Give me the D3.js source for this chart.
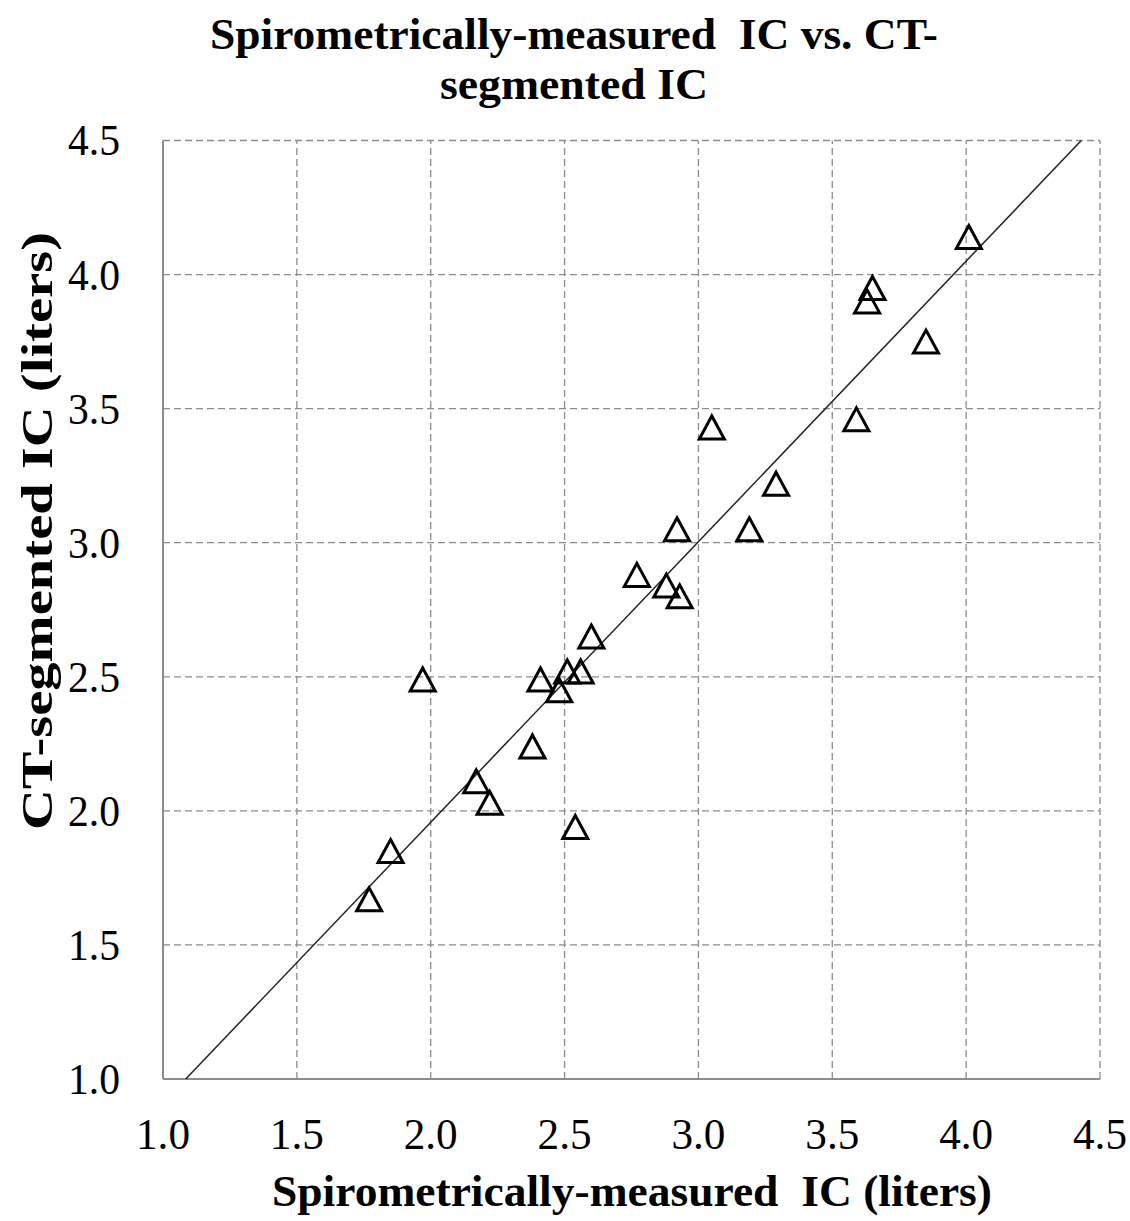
<!DOCTYPE html>
<html>
<head>
<meta charset="utf-8">
<script src="https://cdn.jsdelivr.net/npm/d3@7"></script>
<style>
  html, body { margin: 0; padding: 0; background: #fff; }
  svg { display: block; }
  text { font-family: "Liberation Serif", "Times New Roman", serif; fill: #000; white-space: pre; }
</style>
</head>
<body>
<svg width="1130" height="1221"></svg>
<script>
const svg = d3.select("svg");
const width = 1130, height = 1221;
const margin = { top: 140.5, right: 30, bottom: 142, left: 163 };

// spirometric IC (x) and CT-segmented IC (y), liters
const spiroIC = [4.01, 3.65, 3.63, 3.85, 3.59, 3.05, 3.29, 3.19, 2.92, 2.77, 2.88, 2.93,
                 2.60, 1.97, 2.41, 2.51, 2.56, 2.48, 2.38, 2.17, 2.22, 2.54, 1.85, 1.77];
const ctIC    = [4.14, 3.95, 3.90, 3.75, 3.46, 3.43, 3.22, 3.05, 3.05, 2.88, 2.84, 2.80,
                 2.65, 2.49, 2.49, 2.52, 2.52, 2.45, 2.24, 2.11, 2.03, 1.94, 1.85, 1.67];

// trend line endpoints (where it leaves the plot area)
const fitX = [1.085, 4.43];
const fitY = [1.0, 4.5];

const xTicks = [1.0, 1.5, 2.0, 2.5, 3.0, 3.5, 4.0, 4.5];
const yTicks = [1.0, 1.5, 2.0, 2.5, 3.0, 3.5, 4.0, 4.5];

const titleLines = ["Spirometrically-measured  IC vs. CT-", "segmented IC"];
const xTitle = "Spirometrically-measured  IC (liters)";
const yTitle = "CT-segmented IC (liters)";

const x = d3.scaleLinear().domain([1, 4.5]).range([margin.left, width - margin.right]);
const y = d3.scaleLinear().domain([1, 4.5]).range([height - margin.bottom, margin.top]);

const grid = svg.append("g");

// vertical gridlines
grid.selectAll(".vg")
    .data(xTicks.filter(d => d > 1))
    .enter().append("line")
    .attr("x1", d => x(d)).attr("x2", d => x(d))
    .attr("y1", y(1)).attr("y2", y(4.5))
    .attr("stroke", "#8c8c8c").attr("stroke-width", 1.3)
    .attr("stroke-dasharray", "7,4");

// horizontal gridlines
grid.selectAll(".hg")
    .data(yTicks.filter(d => d > 1))
    .enter().append("line")
    .attr("x1", x(1)).attr("x2", x(4.5))
    .attr("y1", d => y(d)).attr("y2", d => y(d))
    .attr("stroke", "#8c8c8c").attr("stroke-width", 1.3)
    .attr("stroke-dasharray", "7,4");

// axes lines
svg.append("line")
    .attr("x1", x(1)).attr("x2", x(1)).attr("y1", y(1)).attr("y2", y(4.5))
    .attr("stroke", "#8c8c8c").attr("stroke-width", 2);
svg.append("line")
    .attr("x1", x(1)).attr("x2", x(4.5)).attr("y1", y(1)).attr("y2", y(1))
    .attr("stroke", "#8c8c8c").attr("stroke-width", 2);

// tick labels
svg.append("g").selectAll("text")
    .data(xTicks)
    .enter().append("text")
    .attr("x", d => x(d))
    .attr("y", y(1) + 70)
    .attr("text-anchor", "middle")
    .attr("font-size", 44)
    .attr("textLength", 54)
    .attr("lengthAdjust", "spacingAndGlyphs")
    .text(d => d.toFixed(1));

svg.append("g").selectAll("text")
    .data(yTicks)
    .enter().append("text")
    .attr("x", x(1) - 43)
    .attr("y", d => y(d))
    .attr("dy", "0.34em")
    .attr("text-anchor", "end")
    .attr("font-size", 44)
    .attr("textLength", 52)
    .attr("lengthAdjust", "spacingAndGlyphs")
    .text(d => d.toFixed(1));

// trend line
svg.append("line")
    .attr("x1", x(fitX[0])).attr("y1", y(fitY[0]))
    .attr("x2", x(fitX[1])).attr("y2", y(fitY[1]))
    .attr("stroke", "#222").attr("stroke-width", 1.5);

// triangle markers
const tw = 25, th = 23;
const tri = `M0,${-th / 2}L${tw / 2},${th / 2}L${-tw / 2},${th / 2}Z`;
svg.append("g").selectAll("path")
    .data(d3.range(spiroIC.length))
    .enter().append("path")
    .attr("d", tri)
    .attr("transform", i => `translate(${x(spiroIC[i])},${y(ctIC[i])})`)
    .attr("fill", "none")
    .attr("stroke", "#000")
    .attr("stroke-width", 3)
    .attr("stroke-linejoin", "miter");

// title
svg.append("g").selectAll("text")
    .data(titleLines)
    .enter().append("text")
    .attr("x", 574)
    .attr("y", (d, i) => 49 + i * 50)
    .attr("text-anchor", "middle")
    .attr("font-size", 45)
    .attr("font-weight", "bold")
    .attr("textLength", (d, i) => i === 0 ? 728 : 268)
    .attr("lengthAdjust", "spacingAndGlyphs")
    .text(d => d);

// axis titles
svg.append("text")
    .attr("x", 632)
    .attr("y", 1206)
    .attr("text-anchor", "middle")
    .attr("font-size", 44)
    .attr("font-weight", "bold")
    .attr("textLength", 720)
    .attr("lengthAdjust", "spacingAndGlyphs")
    .text(xTitle);

svg.append("text")
    .attr("transform", "translate(52,531) rotate(-90)")
    .attr("text-anchor", "middle")
    .attr("font-size", 44)
    .attr("font-weight", "bold")
    .attr("textLength", 598)
    .attr("lengthAdjust", "spacingAndGlyphs")
    .text(yTitle);
</script>
</body>
</html>
